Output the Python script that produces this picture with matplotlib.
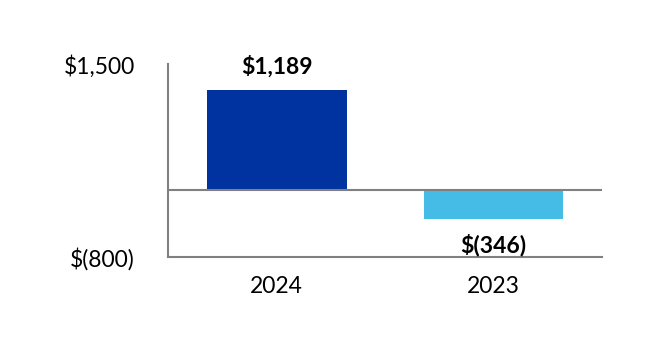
import matplotlib
matplotlib.use("Agg")
import matplotlib.pyplot as plt

years = ["2024", "2023"]
values = [1189, -346]
value_labels = ["$1,189", "$(346)"]
bar_colors = ["#0033A0", "#45BCE5"]
ytick_vals = [1500, -800]
ytick_labels = ["$1,500", "$(800)"]

plt.rcParams['font.family'] = ['Lato', 'DejaVu Sans']

fig = plt.figure(figsize=(6.66, 3.64), dpi=100)
ax = fig.add_axes([0.2523, 0.294, 0.6516, 0.530])

x = list(range(len(years)))
ax.bar(x, values, width=0.645, color=bar_colors, zorder=2)
ax.axhline(0, color="#808080", linewidth=1.5, zorder=3)

ax.set_xlim(-0.5, 1.5)
ax.set_ylim(-800, 1500)

ax.set_yticks(ytick_vals)
ax.set_yticklabels(ytick_labels, fontsize=16.5)
ax.set_xticks(x)
ax.set_xticklabels(years, fontsize=16.5)
ax.tick_params(axis='y', length=0, pad=24)
ax.tick_params(axis='x', length=0, pad=14)

for s in ["top", "right"]:
    ax.spines[s].set_visible(False)
for s in ["left", "bottom"]:
    ax.spines[s].set_color("#808080")
    ax.spines[s].set_linewidth(1.5)

for xi, v, lab in zip(x, values, value_labels):
    if v >= 0:
        ax.annotate(lab, (xi, v), xytext=(0, 9), textcoords="offset points",
                    ha="center", va="bottom", fontsize=16.5, fontweight="bold")
    else:
        ax.annotate(lab, (xi, v), xytext=(0, -11), textcoords="offset points",
                    ha="center", va="top", fontsize=16.5, fontweight="bold")

fig.savefig("out.png", dpi=100)
